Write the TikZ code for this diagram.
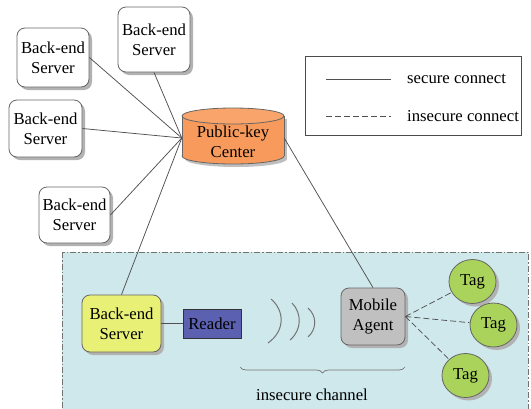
\documentclass[tikz,border=0pt]{standalone}
\usepackage{fontspec}
\setmainfont{Liberation Serif}
\usetikzlibrary{shadows,decorations.pathreplacing,shapes.geometric}
\definecolor{bgblue}{HTML}{CFE8EC}
\definecolor{pkorange}{HTML}{F79A5B}
\definecolor{ysrv}{HTML}{E8F076}
\definecolor{rdblue}{HTML}{5B60B0}
\definecolor{aggray}{HTML}{C0C0C0}
\definecolor{taggreen}{HTML}{A9D35A}
\definecolor{lncol}{HTML}{505050}
\tikzset{
  txt/.style={font=\fontsize{16.7}{20}\selectfont, align=center, inner sep=0pt},
  conn/.style={draw=lncol, line width=0.75pt},
  dconn/.style={conn, dash pattern=on 6pt off 3pt},
  shd/.style={drop shadow={shadow xshift=3pt, shadow yshift=-3pt, fill=black!30, opacity=1}},
  server/.style={txt, draw=black!60, line width=0.8pt, rounded corners=8pt, fill=white, shd},
  ysrvbox/.style={server, fill=ysrv},
  agentbox/.style={server, fill=aggray},
  readerbox/.style={txt, draw=black!80, line width=0.8pt, fill=rdblue, minimum width=58pt, minimum height=29pt},
  tagnode/.style={txt, ellipse, draw=black!60, line width=0.8pt, fill=taggreen, minimum width=47pt, minimum height=44pt, shd},
  wave/.style={draw=black!55, line width=1pt},
}
\begin{document}
\begin{tikzpicture}[x=1pt,y=-1pt]
\useasboundingbox (0,0) rectangle (531,408);
% insecure region
\draw[fill=bgblue, draw=black!55, line width=0.7pt, dash pattern=on 6pt off 2pt on 1.5pt off 2pt] (62,252) rectangle (528,414);

% legend
\draw[draw=black!70, line width=0.7pt] (305,56) rectangle (521,135);
\coordinate (la1) at (326,79);
\coordinate (la2) at (391,79);
\coordinate (lb1) at (326,116);
\coordinate (lb2) at (391,116);
\draw[conn] (la1) -- (la2);
\draw[dconn] (lb1) -- (lb2);
\node[txt, anchor=west] (lsec) at (407,79) {secure connect};
\node[txt, anchor=west] (lins) at (407,116) {insecure connect};

% public-key center cylinder
\fill[black!25] (185,119) rectangle (287,159);
\fill[black!25] (236,159) ellipse [x radius=51, y radius=8];
\draw[fill=pkorange, draw=black!60, line width=0.8pt] (233,156) ellipse [x radius=51, y radius=8];
\fill[pkorange] (182,116) rectangle (284,156);
\draw[draw=black!60, line width=0.8pt] (182,116) -- (182,156) (284,116) -- (284,156);
\draw[fill=pkorange!90!white, draw=black!60, line width=0.8pt] (233,116) ellipse [x radius=51, y radius=8];
\node[txt, minimum width=102pt, minimum height=56pt] (pkc) at (233,138) {};
\node[txt] (pkct) at (233,142) {Public-key\\Center};

% servers
\node[server, minimum width=72pt, minimum height=65pt] (s1) at (154,39.5) {Back-end\\Server};
\node[server, minimum width=72pt, minimum height=59pt] (s2) at (53,57.5) {Back-end\\Server};
\node[server, minimum width=73pt, minimum height=57pt] (s3) at (45.5,128.5) {Back-end\\Server};
\node[server, minimum width=71pt, minimum height=56pt] (s4) at (74.5,215) {Back-end\\Server};
\node[ysrvbox, minimum width=79pt, minimum height=57pt] (ys) at (121.5,323.5) {Back-end\\Server};
\node[readerbox] (rd) at (212,323.5) {Reader};
\node[agentbox, minimum width=64pt, minimum height=57pt] (ag) at (373,316.5) {Mobile\\Agent};
\node[tagnode] (t1) at (472.5,281.5) {Tag};
\node[tagnode] (t2) at (493.5,325) {Tag};
\node[tagnode] (t3) at (465.5,375.5) {Tag};

% secure connections
\draw[conn] (s1.south) -- (pkc.west);
\draw[conn] (s2.east) -- (pkc.west);
\draw[conn] (s3.east) -- (pkc.west);
\draw[conn] (s4.east) -- (pkc.west);
\draw[conn] (pkc.west) -- (ys.north);
\draw[conn] (pkc.east) -- (ag.north);
\draw[conn] (ys.east) -- (rd.west);

% insecure connections
\draw[dconn] (ag.east) -- (t1);
\draw[dconn] (ag.east) -- (t2);
\draw[dconn] (ag.east) -- (t3);

% waves
\draw[wave] (271,299) .. controls (285,311) and (285,331) .. (268,343);
\draw[wave] (292,303) .. controls (302,313) and (302,330) .. (290,340);
\draw[wave] (308,308) .. controls (317,316) and (317,329) .. (308,337);

% brace
\coordinate (br1) at (405,367);
\coordinate (br2) at (240,367);
\draw[draw=black!55, line width=0.7pt, decorate, decoration={brace, amplitude=6pt}] (br1) -- (br2);
\node[txt] (ch) at (312,395) {insecure channel};
\end{tikzpicture}
\end{document}
